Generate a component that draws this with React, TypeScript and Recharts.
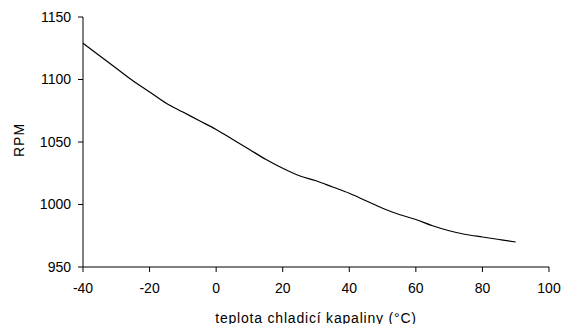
import { CartesianGrid, Label, Line, LineChart, XAxis, YAxis } from "recharts";

const TEMPS = [-40, -35, -30, -25, -20, -15, -10, -5, 0, 5, 10, 15, 20, 25, 30, 35, 40, 45, 50, 55, 60, 65, 70, 75, 80, 85, 90];
const RPM = [1129, 1119, 1109, 1099, 1090, 1081, 1074, 1067, 1060, 1052, 1044, 1036, 1029, 1023, 1019, 1014, 1009, 1003, 997, 992, 988, 983, 979, 976, 974, 972, 970];
const X_TICKS = [-40, -20, 0, 20, 40, 60, 80, 100];
const Y_TICKS = [950, 1000, 1050, 1100, 1150];

const DATA = TEMPS.map((t, i) => ({ temp: t, rpm: RPM[i] }));

const FONT = "'Liberation Sans', Arial, sans-serif";
const TICK = { fontSize: 14, fill: "#000", fontFamily: FONT };

export default function App() {
  return (
    <div style={{ position: "absolute", left: 0, top: 0, background: "#fff" }}>
      <LineChart
        width={563}
        height={324}
        data={DATA}
        margin={{ top: 17, right: 14, left: 0, bottom: 0 }}
      >
        <CartesianGrid stroke="none" />
        <XAxis
          dataKey="temp"
          type="number"
          domain={[-40, 100]}
          ticks={X_TICKS}
          height={57}
          tickSize={5}
          tickMargin={11}
          stroke="#000"
          tick={TICK}
        >
          <Label
            value="teplota chladicí kapaliny (°C)"
            position="insideBottom"
            offset={1}
            style={{ fontSize: 14, fill: "#000", fontFamily: FONT, letterSpacing: 0.8 }}
          />
        </XAxis>
        <YAxis
          type="number"
          domain={[950, 1150]}
          ticks={Y_TICKS}
          width={83}
          tickSize={5}
          tickMargin={7}
          stroke="#000"
          tick={TICK}
        >
          <Label
            value="RPM"
            angle={-90}
            position="insideLeft"
            offset={19}
            dy={-2}
            style={{ fontSize: 14, fill: "#000", fontFamily: FONT, textAnchor: "middle", letterSpacing: 1 }}
          />
        </YAxis>
        <Line
          dataKey="rpm"
          type="monotone"
          stroke="#000"
          strokeWidth={1.2}
          dot={false}
          isAnimationActive={false}
        />
      </LineChart>
    </div>
  );
}
